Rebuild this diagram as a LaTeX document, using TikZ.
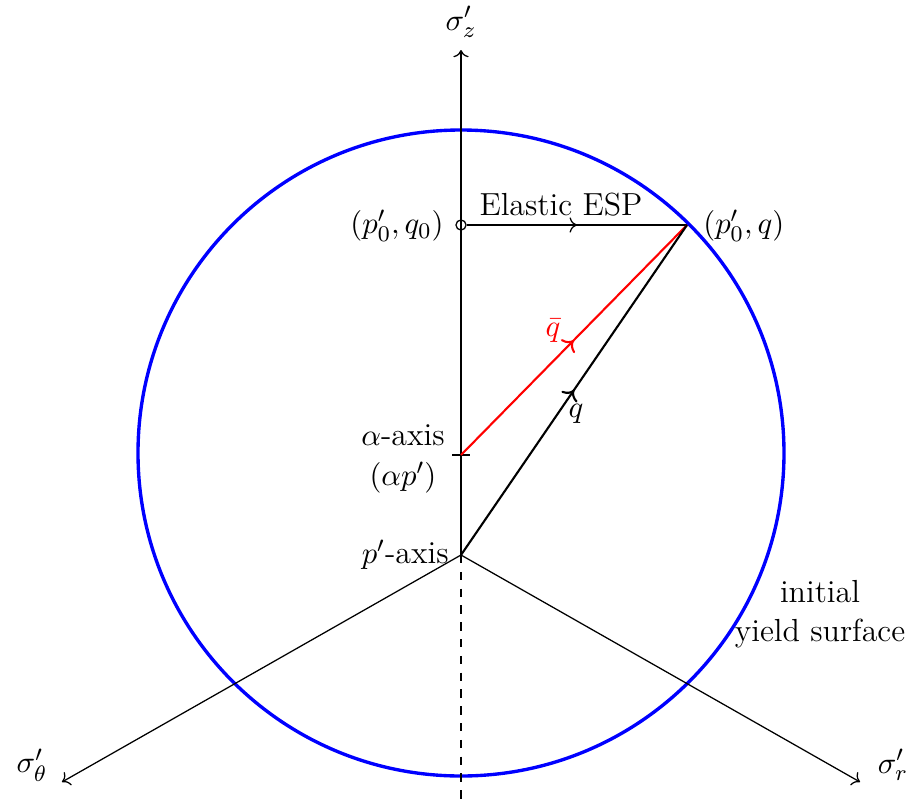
\documentclass[tikz,border=0pt]{standalone}
\usetikzlibrary{decorations.markings,arrows.meta}
\begin{document}
\begin{tikzpicture}[x=0.357pt,y=-0.357pt,
  every node/.style={font=\fontsize{11.4pt}{14pt}\selectfont},
  axis/.style={line width=0.45pt},
  midarrow/.style={postaction={decorate},decoration={markings,mark=at position 0.5 with {\arrow{>}}}},
  lbl/.style={inner sep=1pt}]
\useasboundingbox (0,0) rectangle (913,800);
\coordinate (O) at (461,555);
\coordinate (Z) at (461,50);
\coordinate (B) at (461,800);
\coordinate (T) at (62,782);
\coordinate (R) at (860,782);
\coordinate (A) at (461,455);
\coordinate (P) at (687,225);
\coordinate (C) at (461,453);
% yield surface
\draw[blue,line width=1.2pt] (C) circle[radius=323];
% axes
\draw[axis,->] (O) -- (Z);
\draw[axis,dashed] (O) -- (B);
\draw[axis,->] (O) -- (T);
\draw[axis,->] (O) -- (R);
\node[lbl] (sz) at (461,22) {$\sigma'_z$};
\node[lbl] (st) at (32,765) {$\sigma'_\theta$};
\node[lbl] (sr) at (893,765) {$\sigma'_r$};
% start point
\node[draw,circle,inner sep=0pt,minimum size=3.6pt,line width=0.45pt] (S) at (461,225) {};
\draw[axis,midarrow] (S) -- (P);
\node[lbl] at (561,205) {Elastic ESP};
\node[lbl,anchor=east] at (447,226) {$(p'_0,q_0)$};
\node[lbl,anchor=west] at (700,226) {$(p'_0,q)$};
% alpha tick
\draw[axis] (452,455) -- (470,455);
\node[lbl,anchor=east,align=center] at (448,459) {$\alpha$-axis\\$(\alpha p')$};
\node[lbl,anchor=east] at (452,555) {$p'$-axis};
% stress paths
\draw[red,line width=0.75pt,midarrow] (A) -- (P);
\draw[line width=0.75pt,midarrow] (O) -- (P);
\node[lbl,red] at (553,331) {$\bar q$};
\node[lbl] at (576,414) {$q$};
\node[lbl,align=center] at (820,614) {initial\\yield surface};
\end{tikzpicture}
\end{document}
